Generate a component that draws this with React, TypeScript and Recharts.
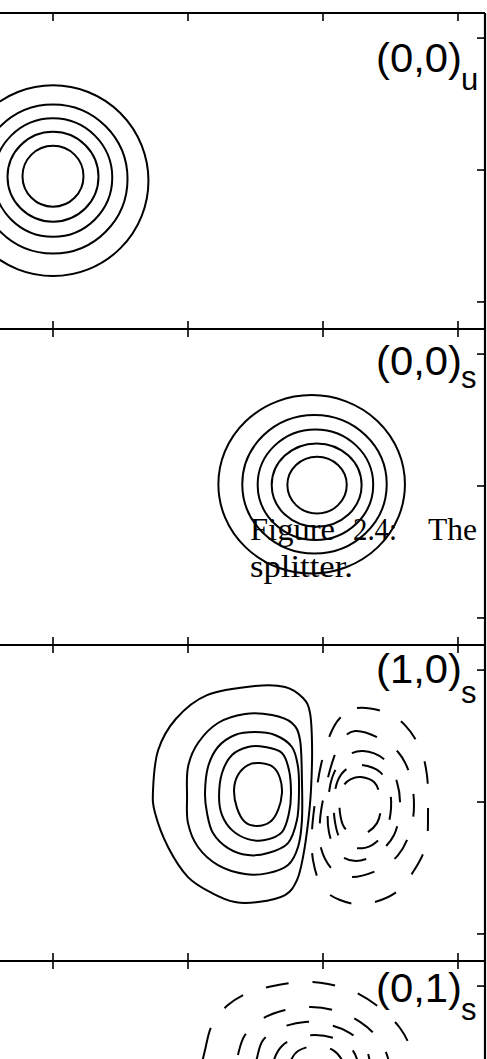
import React from 'react';
import { ScatterChart, Scatter, XAxis, YAxis } from 'recharts';

type Pt = [number, number];

// Shared axis frame for every mode panel (ticks are unlabeled)
const X_DOMAIN: [number, number] = [-0.6, 3.2];
const Y_DOMAIN: [number, number] = [-0.205, 2.19];
const xTicks = [0, 1, 2, 3];
const yTicks = [0, 1, 2];

// (0,0)_u : Gaussian intensity rings (centre and half-axes in axis units)
const uRingCx = [0, 0, 0, 0, 0];
const uRingCy = [0.953, 0.949, 0.943, 0.932, 0.919];
const uRingRx = [0.226, 0.337, 0.439, 0.552, 0.707];
const uRingRy = [0.231, 0.341, 0.449, 0.565, 0.723];

// (0,0)_s : same mode after the splitter
const sRingCx = [1.956, 1.953, 1.944, 1.937, 1.916];
const sRingCy = [1.007, 1.007, 1.01, 1.013, 1.013];
const sRingRx = [0.22, 0.333, 0.428, 0.535, 0.691];
const sRingRy = [0.215, 0.316, 0.419, 0.525, 0.676];

// (1,0)_s : positive lobe contours (outer to inner)
const m10Positive: Pt[][] = [
  [[0.741, 1.091], [0.778, 1.39], [0.911, 1.631], [1.141, 1.81], [1.496, 1.879], [1.719, 1.872], [1.852, 1.788], [1.904, 1.674], [1.919, 1.417], [1.911, 1.091], [1.889, 0.84], [1.852, 0.583], [1.807, 0.408], [1.719, 0.295], [1.519, 0.242], [1.348, 0.242], [1.178, 0.31], [1.0, 0.431], [0.852, 0.659], [0.756, 0.916]],
  [[0.993, 1.038], [1.0, 1.265], [1.074, 1.447], [1.222, 1.599], [1.422, 1.667], [1.622, 1.659], [1.77, 1.599], [1.83, 1.47], [1.844, 1.166], [1.844, 0.863], [1.815, 0.659], [1.741, 0.522], [1.593, 0.461], [1.422, 0.454], [1.222, 0.522], [1.074, 0.659], [1.0, 0.84]],
  [[1.126, 1.068], [1.148, 1.265], [1.222, 1.417], [1.348, 1.508], [1.496, 1.53], [1.644, 1.508], [1.77, 1.417], [1.815, 1.265], [1.822, 1.068], [1.807, 0.863], [1.741, 0.689], [1.593, 0.613], [1.444, 0.598], [1.296, 0.651], [1.185, 0.765], [1.141, 0.916]],
  [[1.23, 1.038], [1.252, 1.22], [1.326, 1.356], [1.444, 1.417], [1.57, 1.417], [1.696, 1.371], [1.748, 1.242], [1.763, 1.068], [1.748, 0.916], [1.696, 0.772], [1.57, 0.712], [1.444, 0.719], [1.326, 0.787], [1.252, 0.901]],
  [[1.341, 1.091], [1.37, 1.204], [1.444, 1.28], [1.533, 1.295], [1.63, 1.265], [1.681, 1.182], [1.696, 1.068], [1.667, 0.939], [1.607, 0.848], [1.511, 0.818], [1.422, 0.848], [1.363, 0.954]],
];

// (1,0)_s : negative lobe contours (outer to inner)
const m10Negative: Pt[][] = [
  [[2.252, 1.712], [2.459, 1.682], [2.607, 1.583], [2.719, 1.409], [2.77, 1.204], [2.778, 0.939], [2.763, 0.674], [2.667, 0.469], [2.533, 0.31], [2.311, 0.226], [2.126, 0.257], [1.993, 0.355], [1.926, 0.56], [1.919, 0.787], [1.948, 1.053], [1.985, 1.28], [2.052, 1.508], [2.126, 1.637]],
  [[2.237, 1.538], [2.4, 1.492], [2.556, 1.379], [2.644, 1.204], [2.674, 0.977], [2.644, 0.772], [2.556, 0.598], [2.407, 0.484], [2.215, 0.431], [2.074, 0.484], [1.985, 0.651], [1.978, 0.863], [2.015, 1.091], [2.074, 1.318], [2.141, 1.47]],
  [[2.296, 1.386], [2.459, 1.318], [2.548, 1.151], [2.57, 0.954], [2.526, 0.75], [2.407, 0.613], [2.244, 0.552], [2.111, 0.613], [2.044, 0.772], [2.037, 0.977], [2.067, 1.182], [2.156, 1.333]],
  [[2.289, 1.28], [2.422, 1.227], [2.489, 1.106], [2.504, 0.954], [2.467, 0.787], [2.363, 0.674], [2.237, 0.651], [2.133, 0.712], [2.089, 0.848], [2.081, 1.015], [2.111, 1.166], [2.185, 1.257]],
  [[2.281, 1.189], [2.378, 1.151], [2.422, 1.053], [2.43, 0.954], [2.4, 0.84], [2.319, 0.765], [2.23, 0.757], [2.156, 0.81], [2.126, 0.916], [2.126, 1.038], [2.156, 1.129], [2.207, 1.174]],
];

// (0,1)_s : negative (upper) lobe contours (outer to inner)
const m01Negative: Pt[][] = [
  [[1.126, 1.515], [1.178, 1.705], [1.296, 1.856], [1.459, 1.955], [1.667, 2.008], [1.852, 2.031], [2.037, 2.016], [2.237, 1.955], [2.422, 1.834], [2.57, 1.682], [2.652, 1.515], [2.689, 1.288], [2.644, 1.022], [2.496, 0.871], [2.126, 0.795], [1.83, 0.78], [1.459, 0.795], [1.2, 0.909], [1.089, 1.136], [1.089, 1.326]],
  [[1.37, 1.477], [1.422, 1.629], [1.548, 1.75], [1.719, 1.819], [1.911, 1.841], [2.104, 1.811], [2.274, 1.728], [2.407, 1.606], [2.481, 1.455], [2.511, 1.25], [2.459, 1.06], [2.274, 0.947], [1.911, 0.909], [1.57, 0.947], [1.385, 1.098], [1.341, 1.288]],
  [[1.511, 1.455], [1.556, 1.591], [1.681, 1.682], [1.867, 1.728], [2.052, 1.705], [2.2, 1.644], [2.311, 1.538], [2.348, 1.402], [2.333, 1.212], [2.163, 1.076], [1.904, 1.045], [1.644, 1.098], [1.519, 1.227], [1.496, 1.364]],
  [[1.637, 1.439], [1.696, 1.546], [1.8, 1.606], [1.941, 1.629], [2.081, 1.606], [2.2, 1.538], [2.259, 1.424], [2.274, 1.288], [2.2, 1.151], [1.941, 1.098], [1.696, 1.151], [1.622, 1.288]],
  [[1.756, 1.424], [1.815, 1.508], [1.941, 1.546], [2.074, 1.515], [2.148, 1.424], [2.17, 1.303], [2.089, 1.212], [1.941, 1.182], [1.793, 1.212], [1.726, 1.303]],
];

const panelNames = ['(0,0)', '(0,0)', '(1,0)', '(0,1)'];
const panelSubs = ['u', 's', 's', 's'];

// ---- layout ----
const PANEL_H = 316;
const PANEL_TOP = 13;
const PLOT_LEFT = -28;
const PLOT_W = 513;
const M = 2;
const labelBase = [59, 46, 38, 41];
const subBase = [77, 59, 58, 59];

type XY = { x: number; y: number };

const ringPoints = (cx: number, cy: number, rx: number, ry: number) => [
  { x: cx - rx, y: cy },
  { x: cx, y: cy + ry },
  { x: cx + rx, y: cy },
  { x: cx, y: cy - ry },
];

const toRows = (pts: Pt[]) => pts.map(([x, y]) => ({ x, y }));

// closed Catmull-Rom curve through the projected contour vertices
function closedSplinePath(pts: XY[]): string {
  const n = pts.length;
  let d = `M${pts[0].x},${pts[0].y}`;
  for (let i = 0; i < n; i++) {
    const p0 = pts[(i - 1 + n) % n];
    const p1 = pts[i];
    const p2 = pts[(i + 1) % n];
    const p3 = pts[(i + 2) % n];
    const c1x = p1.x + (p2.x - p0.x) / 6;
    const c1y = p1.y + (p2.y - p0.y) / 6;
    const c2x = p2.x - (p3.x - p1.x) / 6;
    const c2y = p2.y - (p3.y - p1.y) / 6;
    d += ` C${c1x},${c1y} ${c2x},${c2y} ${p2.x},${p2.y}`;
  }
  return d + ' Z';
}

const STROKE = 2;
const DASH = '23 24';

const ringLine = (props: any) => {
  const p: XY[] = props.points || [];
  if (!p.length) return <g />;
  const xs = p.map((q) => q.x);
  const ys = p.map((q) => q.y);
  const x0 = Math.min(...xs);
  const x1 = Math.max(...xs);
  const y0 = Math.min(...ys);
  const y1 = Math.max(...ys);
  return (
    <ellipse
      cx={(x0 + x1) / 2}
      cy={(y0 + y1) / 2}
      rx={(x1 - x0) / 2}
      ry={(y1 - y0) / 2}
      fill="none"
      stroke="#000"
      strokeWidth={STROKE}
    />
  );
};

const solidLine = (props: any) => {
  const p: XY[] = props.points || [];
  if (p.length < 3) return <g />;
  return <path d={closedSplinePath(p)} fill="none" stroke="#000" strokeWidth={STROKE} />;
};

const dashedLine = (props: any) => {
  const p: XY[] = props.points || [];
  if (p.length < 3) return <g />;
  return (
    <path d={closedSplinePath(p)} fill="none" stroke="#000" strokeWidth={STROKE} strokeDasharray={DASH} />
  );
};

const NoMarker = () => <g />;
const NoTick = () => <g />;

type Contour = { rows: XY[]; kind: 'ring' | 'solid' | 'dashed' };

const panels: Contour[][] = [
  uRingCx.map((cx, i) => ({ rows: ringPoints(cx, uRingCy[i], uRingRx[i], uRingRy[i]), kind: 'ring' as const })),
  sRingCx.map((cx, i) => ({ rows: ringPoints(cx, sRingCy[i], sRingRx[i], sRingRy[i]), kind: 'ring' as const })),
  [
    ...m10Positive.map((c) => ({ rows: toRows(c), kind: 'solid' as const })),
    ...m10Negative.map((c) => ({ rows: toRows(c), kind: 'dashed' as const })),
  ],
  m01Negative.map((c) => ({ rows: toRows(c), kind: 'dashed' as const })),
];

const axisLine = { stroke: '#000', strokeWidth: 2.2 };
const tickLine = { stroke: '#000', strokeWidth: 1.6 };

function ModePanel({ contours, index }: { contours: Contour[]; index: number }) {
  const top = PANEL_TOP + index * PANEL_H - M;
  return (
    <div style={{ position: 'absolute', left: PLOT_LEFT - M, top }}>
      <ScatterChart
        width={PLOT_W + 2 * M}
        height={PANEL_H + 2 * M}
        margin={{ top: M, right: M, bottom: M, left: M }}
      >
        <XAxis
          xAxisId="b"
          type="number"
          dataKey="x"
          orientation="bottom"
          mirror
          domain={X_DOMAIN}
          ticks={xTicks}
          interval={0}
          allowDataOverflow
          tick={NoTick}
          tickSize={8}
          axisLine={axisLine}
          tickLine={tickLine}
        />
        <XAxis
          xAxisId="t"
          type="number"
          dataKey="x"
          orientation="top"
          mirror
          domain={X_DOMAIN}
          ticks={xTicks}
          interval={0}
          allowDataOverflow
          tick={NoTick}
          tickSize={8}
          axisLine={axisLine}
          tickLine={tickLine}
        />
        <YAxis
          yAxisId="r"
          type="number"
          dataKey="y"
          orientation="right"
          mirror
          domain={Y_DOMAIN}
          ticks={yTicks}
          interval={0}
          allowDataOverflow
          tick={NoTick}
          tickSize={8}
          axisLine={axisLine}
          tickLine={tickLine}
        />
        <YAxis
          yAxisId="l"
          type="number"
          dataKey="y"
          orientation="left"
          mirror
          domain={Y_DOMAIN}
          ticks={yTicks}
          interval={0}
          allowDataOverflow
          tick={NoTick}
          tickSize={8}
          axisLine={axisLine}
          tickLine={tickLine}
        />
        <Scatter
          xAxisId="t"
          yAxisId="l"
          data={[{ x: 0, y: 0 }]}
          shape={NoMarker}
          isAnimationActive={false}
        />
        {contours.map((c, i) => (
          <Scatter
            key={i}
            xAxisId="b"
            yAxisId="r"
            data={c.rows}
            shape={NoMarker}
            line={c.kind === 'ring' ? ringLine : c.kind === 'solid' ? solidLine : dashedLine}
            lineType="joint"
            isAnimationActive={false}
          />
        ))}
      </ScatterChart>
    </div>
  );
}

export default function App() {
  return (
    <div
      style={{
        position: 'fixed',
        left: 0,
        top: 0,
        width: 487,
        height: 1059,
        overflow: 'hidden',
        background: '#fff',
      }}
    >
      {panels.map((c, i) => (
        <ModePanel key={i} contours={c} index={i} />
      ))}
      <svg
        width={487}
        height={1059}
        style={{ position: 'absolute', left: 0, top: 0, pointerEvents: 'none' }}
      >
        {panelNames.map((name, i) => {
          const t = PANEL_TOP + i * PANEL_H;
          return (
            <g key={i} fontFamily="'Liberation Sans', Arial, sans-serif" fill="#000">
              <text x={376} y={t + labelBase[i]} fontSize={41} textLength={86} lengthAdjust="spacingAndGlyphs">
                {name}
              </text>
              <text x={461} y={t + subBase[i]} fontSize={31}>
                {panelSubs[i]}
              </text>
            </g>
          );
        })}
        <g fontFamily="'Liberation Serif', 'Times New Roman', serif" fontSize={32} fill="#000">
          <text x={250} y={540} textLength={85} lengthAdjust="spacingAndGlyphs">Figure</text>
          <text x={353} y={540} textLength={44} lengthAdjust="spacingAndGlyphs">2.4:</text>
          <text x={428} y={540} textLength={49} lengthAdjust="spacingAndGlyphs">The</text>
          <text x={250} y={577} textLength={103} lengthAdjust="spacingAndGlyphs">splitter.</text>
        </g>
      </svg>
    </div>
  );
}
